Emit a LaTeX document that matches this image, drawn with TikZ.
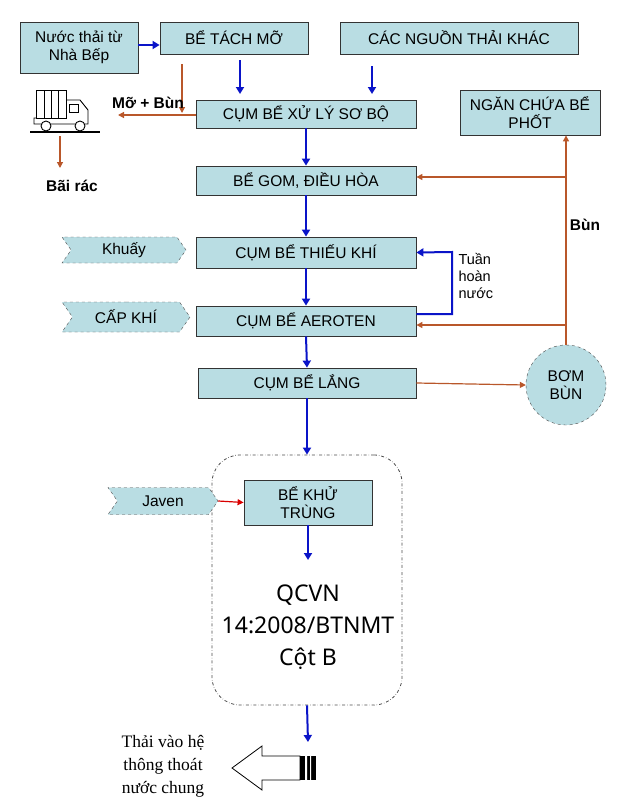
\documentclass[tikz,border=0pt]{standalone}
\usepackage{fontspec}
\setmainfont{Liberation Sans}
\newfontfamily\qfont{Noto Sans}
\newfontfamily\sfont{Liberation Serif}
\usetikzlibrary{shapes.symbols,shapes.geometric,arrows.meta}
\definecolor{boxc}{HTML}{B9DDE3}
\definecolor{blu}{HTML}{0A14C8}
\definecolor{brn}{HTML}{B9572A}
\begin{document}
\begin{tikzpicture}[x=1pt,y=-1pt,
 box/.style={draw=black!80,fill=boxc,line width=0.8pt,font=\fontsize{15.5}{17.5}\selectfont,align=center,inner sep=0pt},
 tag/.style={signal,signal to=east,signal from=west,draw=black!70,dashed,fill=boxc,font=\fontsize{15.5}{17}\selectfont,minimum height=26pt,inner sep=2pt,signal pointer angle=110},
 ba/.style={draw=blu,line width=2pt,-{Triangle[length=7pt,width=8pt]}},
 br/.style={draw=brn,line width=1.2pt,-{Triangle[length=6pt,width=6pt]}},
 lb/.style={font=\bfseries\fontsize{15.5}{17}\selectfont}]
\useasboundingbox (0,0) rectangle (638,803);
\node[box,minimum width=118pt,minimum height=51pt] (nt) at (79,47.5) {Nước thải từ\\Nhà Bếp};
\node[box,minimum width=148pt,minimum height=32pt] (tm) at (234,38) {BỂ TÁCH MỠ};
\node[box,minimum width=238pt,minimum height=32pt] (kh) at (459,38) {CÁC NGUỒN THẢI KHÁC};
\node[box,minimum width=220pt,minimum height=28pt] (sb) at (306,114) {CỤM BỂ XỬ LÝ SƠ BỘ};
\node[box,minimum width=140pt,minimum height=45pt] (nc) at (530,112.5) {NGĂN CHỨA BỂ\\PHỐT};
\node[box,minimum width=220pt,minimum height=29pt] (gom) at (306,180.5) {BỂ GOM, ĐIỀU HÒA};
\node[box,minimum width=220pt,minimum height=31pt] (tk) at (306,252.5) {CỤM BỂ THIẾU KHÍ};
\node[box,minimum width=220pt,minimum height=30pt] (ae) at (306,321) {CỤM BỂ AEROTEN};
\node[box,minimum width=218pt,minimum height=30pt] (la) at (307,383) {CỤM BỂ LẮNG};
\node[circle,draw=black!70,dashed,fill=boxc,minimum size=80pt,font=\fontsize{15.5}{18}\selectfont,align=center,inner sep=0pt] (bom) at (566,385) {BƠM\\BÙN};
\node[draw=black!70,dash dot,rounded corners=28pt,minimum width=190pt,minimum height=250pt,line width=0.8pt] (vung) at (307,580) {};
\node[box,minimum width=128pt,minimum height=45pt] (kt) at (308,502.5) {BỂ KHỬ\\TRÙNG};
\node[font=\qfont\fontsize{23}{32}\selectfont,align=center] (qc) at (308,627) {QCVN\\14:2008/BTNMT\\Cột B};
\node[tag,minimum width=124pt] (khu) at (124,250) {Khuấy};
\node[tag,minimum width=128pt,minimum height=30pt] (cap) at (126,317) {CẤP KHÍ};
\node[tag,minimum width=110pt,minimum height=27pt] (jav) at (163,501) {Javen};
% blue arrows
\draw[ba] (nt.east |- 0,45) -- (tm.west |- 0,45);
\draw[ba] (240,60) -- (240,94);
\draw[ba] (372,66) -- (372,94);
\draw[ba] (sb.south) -- (gom.north);
\draw[ba] (gom.south) -- (tk.north);
\draw[ba] (tk.south) -- (ae.north);
\draw[ba] (ae.south) -- (la.north);
\draw[ba] (la.south) -- (vung.north);
\draw[ba] (kt.south) -- (308,560);
\coordinate (out) at (308,742);
\draw[ba] (vung.south) -- (out);
\draw[ba] (ae.east |- 0,314) -- (452,314) -- (452,252) -- (tk.east);
\node[font=\fontsize{14.5}{17}\selectfont,align=left,anchor=north west] (tn) at (455,250) {Tuần\\hoàn\\nước};
% brown
\coordinate (mb) at (182,113);
\draw[br] (182,64) -- (mb);
\coordinate (tr) at (118,115);
\draw[br] (sb.west |- 0,115) -- (tr);
\node[lb] (mbl) at (148,103) {Mỡ + Bùn};
\draw[br] (la.east) -- (bom.west);
\draw[br] (bom.north) -- (bom.north |- nc.south);
\draw[br] (566,177) -- (gom.east |- 0,177);
\draw[br] (566,325) -- (ae.east |- 0,325);
\node[lb] (bun) at (585,225) {Bùn};
\draw[draw=red!85!black,line width=1.2pt,-{Triangle[length=6pt,width=6pt]}] (jav.east) -- (kt.west);
% truck
\begin{scope}[line width=0.9pt]
\draw (36,90) rectangle (66,118);
\draw (44,90)--(44,118) (51,90)--(51,118) (58,90)--(58,118);
\draw (66,100) -- (80,100) -- (88,110) -- (88,124) -- (34,124) -- (34,118) -- (36,118);
\draw (69,104) rectangle (78,112);
\draw[fill=white] (46,126) circle (5pt) (80,126) circle (5pt);
\draw[line width=1.2pt] (30,132) -- (100,132);
\end{scope}
\node (truck) at (62,112) {};
\coordinate (ra) at (60,168);
\draw[br] (60,136) -- (ra);
\node[lb] (rac) at (72,186) {Bãi rác};
% block arrow
\draw[line width=0.8pt,fill=white] (300,756) -- (262,756) -- (262,746) -- (232,768) -- (262,790) -- (262,780) -- (300,780) -- cycle;
\fill (300,756) rectangle (316,780);
\fill[white] (305,756) rectangle (307,780) (310,756) rectangle (311,780);
\node[font=\sfont\fontsize{17.5}{23}\selectfont,align=center] (thai) at (163,766) {Thải vào hệ\\thông thoát\\nước chung};
\end{tikzpicture}
\end{document}
